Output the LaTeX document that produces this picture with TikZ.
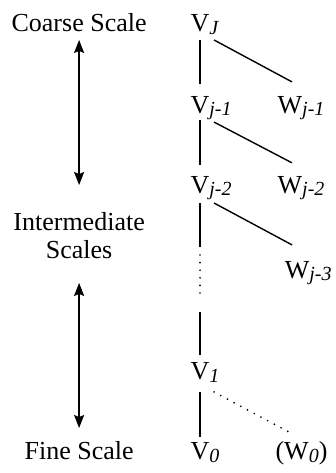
\documentclass[tikz,border=0pt]{standalone}
\usepackage{fontspec}
\setmainfont{Liberation Serif}
\usepackage{tikz}
\usetikzlibrary{arrows.meta,calc}
\newcommand{\idx}[1]{\raisebox{-0.08em}{\fontsize{20}{20}\selectfont\itshape #1}}

\begin{document}
\begin{tikzpicture}[every node/.style={font=\fontsize{26}{28}\selectfont, inner sep=0pt, outer sep=0pt},
    space/.style={anchor=base, text height=17.2pt, text depth=0pt},
    link/.style={line width=1.4pt},
    dotlink/.style={line width=1.9pt, dash pattern=on 0pt off 7.6pt, line cap=round},
    scalearrow/.style={line width=1.5pt, {Stealth[length=13pt,width=10pt,inset=2pt]}-{Stealth[length=13pt,width=10pt,inset=2pt]}}]
    \useasboundingbox (0,0) rectangle (11.774,16.624);

    % scale labels
    \node[anchor=base] (coarse) at (2.78,15.50) {Coarse Scale};
    \node[anchor=base, align=center] (inter) at (2.78,7.556) {Intermediate\\Scales};
    \node[anchor=base] (fine) at (2.78,0.457) {Fine Scale};

    \coordinate (upA) at (2.78,15.22);
    \coordinate (downA) at (2.78,10.12);
    \coordinate (upB) at (2.78,6.68);
    \coordinate (downB) at (2.78,1.58);
    \draw[scalearrow] (upA) -- (downA);
    \draw[scalearrow] (upB) -- (downB);

    % approximation spaces
    \node[space] (vJ) at (7.03,15.50) {V\rlap{\idx{J}}};
    \node[space] (vj1) at (7.03,12.65) {V\rlap{\idx{j-1}}};
    \node[space] (vj2) at (7.03,9.84) {V\rlap{\idx{j-2}}};
    \node[space] (v1) at (7.03,3.27) {V\rlap{\idx{1}}};
    \node[space] (v0) at (7.03,0.457) {V\rlap{\idx{0}}};

    % detail spaces
    \node[space] (wj1) at (10.19,12.65) {W\rlap{\idx{j-1}}};
    \node[space] (wj2) at (10.19,9.84) {W\rlap{\idx{j-2}}};
    \node[space] (wj3) at (10.44,6.85) {W\rlap{\idx{j-3}}};
    \node[space] (w0) at (10.42,0.457) {\llap{(}W\rlap{\idx{0})}};

    % V chain
    \draw[link, shorten <=8pt, shorten >=12pt] (vJ) -- (vj1);
    \draw[link, shorten <=7pt, shorten >=11pt] (vj1) -- (vj2);
    \coordinate (dotsTop) at ($(vj2.south)+(0,-62pt)$);
    \coordinate (dotsBot) at ($(v1.north)+(0,68pt)$);
    \draw[link, shorten <=10pt, shorten >=8pt] (vj2) -- (dotsTop);
    \draw[dotlink] (dotsTop) -- (dotsBot);
    \draw[link, shorten <=17pt, shorten >=8pt] (dotsBot) -- (v1);
    \draw[link, shorten <=12pt, shorten >=6pt] (v1) -- (v0);

    % V to W
    \draw[link] ($(vJ.south)+(14pt,-8pt)$) -- ($(wj1.north)+(2pt,14pt)$);
    \draw[link] ($(vj1.south)+(14pt,-9pt)$) -- ($(wj2.north)+(2pt,13pt)$);
    \draw[link] ($(vj2.south)+(14pt,-10pt)$) -- ($(wj3.north)+(-5pt,16pt)$);
    \draw[dotlink] ($(v1.south)+(14pt,-12pt)$) -- ($(w0.north)+(-8pt,11pt)$);
\end{tikzpicture}
\end{document}
